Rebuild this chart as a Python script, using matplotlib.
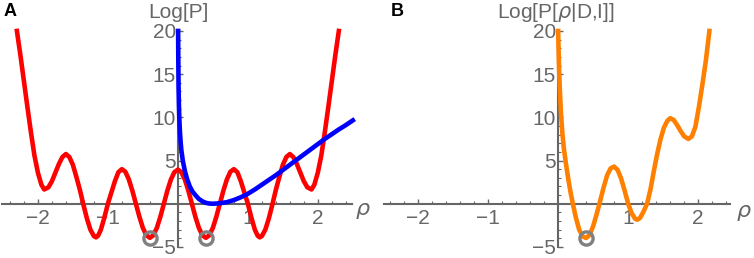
import matplotlib
matplotlib.use("Agg")
import matplotlib.pyplot as plt
from matplotlib.ticker import FixedLocator, MultipleLocator

plt.rcParams['font.family'] = ['Liberation Sans', 'DejaVu Sans']

# panel A: red curve (symmetric, many minima)
red_x = [-2.3, -2.25, -2.2, -2.15, -2.1, -2.05, -2.0, -1.95, -1.91, -1.85, -1.8, -1.75,
         -1.7, -1.65, -1.6, -1.55, -1.5, -1.45, -1.4, -1.35, -1.3, -1.25, -1.2, -1.17,
         -1.14, -1.1, -1.05, -1.0, -0.95, -0.9, -0.85, -0.8, -0.75, -0.7, -0.65, -0.6,
         -0.55, -0.5, -0.45, -0.4, -0.35, -0.3, -0.25, -0.2, -0.15, -0.1, -0.05, 0.0,
         0.05, 0.1, 0.15, 0.2, 0.25, 0.3, 0.35, 0.4, 0.45, 0.5, 0.55, 0.6,
         0.65, 0.7, 0.75, 0.8, 0.85, 0.9, 0.95, 1.0, 1.05, 1.1, 1.14, 1.17,
         1.2, 1.25, 1.3, 1.35, 1.4, 1.45, 1.5, 1.55, 1.6, 1.65, 1.7, 1.75,
         1.8, 1.85, 1.91, 1.95, 2.0, 2.05, 2.1, 2.15, 2.2, 2.25, 2.3]
red_y = [20.0, 17.2, 14.2, 11.2, 8.3, 5.6, 3.6, 2.2, 1.65, 1.9, 2.6, 3.6,
         4.6, 5.4, 5.75, 5.4, 4.5, 3.1, 1.6, -0.1, -1.7, -3.0, -3.75, -3.9,
         -3.7, -3.0, -1.6, 0.0, 1.3, 2.6, 3.65, 4.0, 3.7, 2.8, 1.5, 0.0,
         -1.5, -2.8, -3.65, -3.95, -3.65, -2.79, -1.51, 0.0, 1.51, 2.79, 3.65, 3.95,
         3.65, 2.79, 1.51, 0.0, -1.51, -2.79, -3.65, -3.95, -3.65, -2.8, -1.5, 0.0,
         1.5, 2.8, 3.7, 4.0, 3.65, 2.6, 1.3, 0.0, -1.6, -3.0, -3.7, -3.9,
         -3.75, -3.0, -1.7, -0.1, 1.6, 3.1, 4.5, 5.4, 5.75, 5.4, 4.6, 3.6,
         2.6, 1.9, 1.65, 2.2, 3.6, 5.6, 8.3, 11.2, 14.2, 17.2, 20.0]

# panel A: blue curve
blue_x = [0.004, 0.006, 0.01, 0.015, 0.02, 0.03, 0.04, 0.05, 0.07, 0.1, 0.13, 0.17,
          0.21, 0.25, 0.3, 0.35, 0.4, 0.45, 0.5, 0.55, 0.6, 0.7, 0.8, 0.9, 1.0,
          1.1, 1.2, 1.3, 1.4, 1.5, 1.6, 1.7, 1.8, 1.9, 2.0, 2.1, 2.2, 2.3, 2.4, 2.5]
blue_y = [20.0, 17.0, 13.5, 11.5, 10.0, 8.3, 7.1, 6.2, 5.0, 3.8, 2.9, 2.0,
          1.4, 1.0, 0.55, 0.28, 0.1, 0.02, 0.0, 0.02, 0.06, 0.18, 0.42, 0.75, 1.15,
          1.65, 2.2, 2.75, 3.3, 3.9, 4.5, 5.1, 5.7, 6.3, 6.9, 7.5, 8.05, 8.6, 9.1, 9.65]

# panel B: orange curve
orange_x = [0.0, 0.01, 0.02, 0.04, 0.06, 0.08, 0.11, 0.15, 0.18, 0.21, 0.25, 0.3,
            0.35, 0.4, 0.45, 0.5, 0.55, 0.59, 0.65, 0.7, 0.75, 0.8, 0.85, 0.9,
            0.95, 1.0, 1.05, 1.1, 1.13, 1.17, 1.22, 1.27, 1.32, 1.36, 1.41, 1.46,
            1.51, 1.56, 1.6, 1.65, 1.7, 1.75, 1.8, 1.86, 1.91, 1.96, 2.01, 2.06,
            2.11, 2.16]
orange_y = [20.0, 16.5, 14.0, 10.5, 8.2, 6.5, 4.7, 2.6, 1.2, 0.0, -1.5, -3.0,
            -3.8, -3.97, -3.6, -2.6, -1.2, 0.0, 1.9, 3.3, 4.1, 4.3, 3.9, 2.9,
            1.5, 0.0, -1.1, -1.75, -1.85, -1.65, -0.9, 0.0, 1.7, 3.5, 5.6, 7.4,
            8.8, 9.6, 9.9, 9.7, 9.1, 8.4, 7.8, 7.5, 7.8, 8.9, 11.2, 13.8,
            16.6, 20.0]

# marked minima (grey circles)
circA_x = [-0.4, 0.4]
circA_y = [-4.0, -4.0]
circB_x = [0.4]
circB_y = [-4.0]

gray = '#666666'
txt = '#666666'


def style_axis(ax, xlim):
    ax.set_xlim(*xlim)
    ax.set_ylim(-5, 20)
    for s in ['top', 'right']:
        ax.spines[s].set_visible(False)
    ax.spines['left'].set_position(('data', 0))
    ax.spines['bottom'].set_position(('data', 0))
    ax.spines['left'].set_bounds(-5, 20)
    for s in ['left', 'bottom']:
        ax.spines[s].set_color(gray)
        ax.spines[s].set_linewidth(1.5)
    ax.xaxis.set_major_locator(FixedLocator([-2, -1, 1, 2]))
    ax.xaxis.set_minor_locator(MultipleLocator(0.2))
    ax.yaxis.set_major_locator(FixedLocator([-5, 5, 10, 15, 20]))
    ax.yaxis.set_minor_locator(MultipleLocator(1))
    ax.tick_params(which='both', direction='in', colors=gray, labelcolor=txt,
                   labelsize=15)
    ax.tick_params(axis='x', which='major', length=3.5, width=1, pad=4)
    ax.tick_params(axis='y', which='major', length=3.5, width=1, pad=1.5)
    ax.tick_params(which='minor', length=2, width=0.8)
    ax.patch.set_visible(False)


fig = plt.figure(figsize=(7.54, 2.58), dpi=100)

axA = fig.add_axes([0.002, 0.043, 0.465, 0.837])
style_axis(axA, (-2.52, 2.49))
axA.plot(red_x, red_y, color='#ff0000', lw=3.3, zorder=3, clip_on=False)
axA.plot(blue_x, blue_y, color='#0000ff', lw=3.3, zorder=4, clip_on=False)
axA.plot(circA_x, circA_y, 'o', ms=9.5, mfc='none', mec='#808080', mew=2.4, zorder=5)

axB = fig.add_axes([0.509, 0.043, 0.4597, 0.837])
style_axis(axB, (-2.49, 2.46))
axB.plot(orange_x, orange_y, color='#ff8000', lw=3.3, zorder=3, clip_on=False)
axB.plot(circB_x, circB_y, 'o', ms=9.5, mfc='none', mec='#808080', mew=2.4, zorder=5)

fig.text(0.236, 0.95, 'Log[P]', ha='center', va='center', fontsize=15, color=txt)
fig.text(0.7374, 0.952, 'Log[P[$\\rho$|D,I]]', ha='center', va='center',
         fontsize=15, color=txt)
fig.text(0.4814, 0.186, '$\\rho$', ha='center', va='center', fontsize=16, color=txt)
fig.text(0.9867, 0.178, '$\\rho$', ha='center', va='center', fontsize=16, color=txt)
fig.text(0.013, 0.957, 'A', ha='center', va='center', fontsize=13, fontweight='bold')
fig.text(0.527, 0.957, 'B', ha='center', va='center', fontsize=13, fontweight='bold')

fig.savefig('out.png', dpi=100)
